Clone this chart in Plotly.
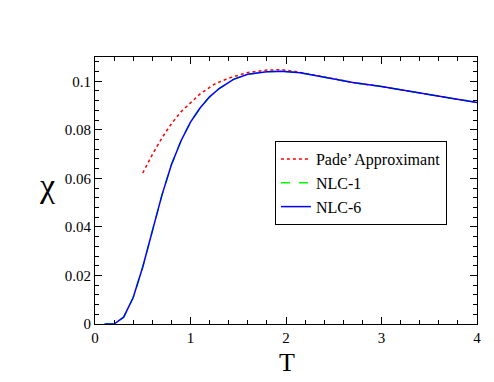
import plotly.graph_objects as go

# values
t_nlc = [0.1, 0.2, 0.3, 0.4, 0.5, 0.6, 0.7, 0.8, 0.9, 1.0, 1.1, 1.2, 1.3, 1.45, 1.6,
         1.8, 1.95, 2.15, 2.4, 2.7, 3.0, 3.4, 3.7, 4.0]
chi_nlc6 = [0.0, 0.0, 0.0028, 0.0109, 0.0235, 0.0385, 0.0530, 0.0656, 0.0754, 0.0832,
            0.0890, 0.0936, 0.0970, 0.1008, 0.1029, 0.1039, 0.1041, 0.1035, 0.1018,
            0.0995, 0.0978, 0.0950, 0.0932, 0.0913]
chi_nlc1 = list(chi_nlc6)

t_pade = [0.5, 0.6, 0.7, 0.8, 0.9, 1.0, 1.1, 1.25, 1.4, 1.6, 1.8, 1.95, 2.1, 2.4,
          2.7, 3.0, 3.4, 3.7, 4.0]
chi_pade = [0.0622, 0.0698, 0.0766, 0.0825, 0.0874, 0.0912, 0.0948, 0.0988, 0.1013,
            0.1036, 0.1046, 0.1048, 0.1040, 0.1018, 0.0995, 0.0978, 0.0950, 0.0932,
            0.0913]

SERIF = "Liberation Serif, Times New Roman, Times, serif"

fig = go.Figure()
fig.add_trace(go.Scatter(x=t_pade, y=chi_pade, name="Pade\u2019 Approximant", mode="lines",
                         line=dict(color="#ff0000", width=1.5, dash="dot")))
fig.add_trace(go.Scatter(x=t_nlc, y=chi_nlc1, name="NLC-1", mode="lines",
                         line=dict(color="#00ff00", width=1.5, dash="dash")))
fig.add_trace(go.Scatter(x=t_nlc, y=chi_nlc6, name="NLC-6", mode="lines",
                         line=dict(color="#0000ff", width=1.5)))

axis_common = dict(showgrid=False, zeroline=False, showline=True, linecolor="black",
                   linewidth=1, mirror="allticks", ticks="inside", ticklen=7,
                   tickcolor="black", tickfont=dict(family=SERIF, size=15, color="black"))

fig.update_xaxes(range=[0, 4], dtick=1, tick0=0,
                 minor=dict(dtick=0.2, ticks="inside", ticklen=4, tickcolor="black"),
                 **axis_common)
fig.update_yaxes(range=[0, 0.11], dtick=0.02, tick0=0,
                 minor=dict(dtick=0.004, ticks="inside", ticklen=4, tickcolor="black"),
                 **axis_common)

# axis titles as annotations so they sit where the reference puts them
fig.add_annotation(text="T", xref="paper", yref="paper", x=0.503, y=-0.145,
                   xanchor="center", yanchor="middle", showarrow=False, borderpad=0,
                   font=dict(family=SERIF, size=26, color="black"))
fig.add_annotation(text="\u03c7", xref="paper", yref="paper", x=-0.125, y=0.52,
                   xanchor="center", yanchor="middle", showarrow=False, borderpad=0,
                   font=dict(family=SERIF, size=34, color="black"))

# page body adds an 8px offset, margins are compensated for it
fig.update_layout(
    width=494, height=382,
    margin=dict(l=87, r=25, t=49, b=66),
    plot_bgcolor="white", paper_bgcolor="white",
    font=dict(family=SERIF, color="black"),
    showlegend=True,
    legend=dict(x=0.471, y=0.685, xanchor="left", yanchor="top",
                bgcolor="white", bordercolor="black", borderwidth=1,
                font=dict(family=SERIF, size=16, color="black"),
                tracegroupgap=0, itemwidth=30),
)

fig.write_html("out.html")
